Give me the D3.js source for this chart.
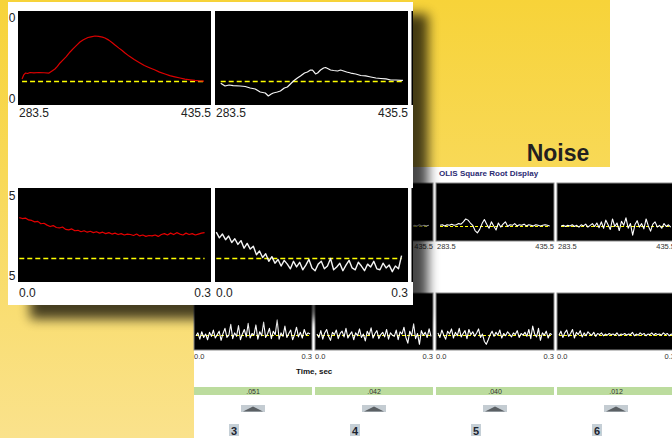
<!DOCTYPE html>
<html>
<head>
<meta charset="utf-8">
<script src="https://cdn.jsdelivr.net/npm/d3@7"></script>
<style>
  html, body { margin: 0; padding: 0; background: #fff; overflow: hidden; }
  svg { display: block; }
</style>
</head>
<body>
<script>
/* ---------- data ------------------------------------------------- */
const wlRange   = [283.5, 435.5];
const timeRange = [0.0, 0.3];

// front window, upper pair: [wavelength, signal]
const spectrumRed = [
  [286.7,27.7],[288,32],[289.5,34],[291,33.5],[293,34.6],[296,34.2],[300,34.6],[304,34.3],
  [307.9,34.0],[310,36],[312.6,38.3],[314.5,41],[316.6,44.7],[319,48],[321.5,51.5],[324.5,56.4],
  [327,60],[330,64],[332.3,67],[335,69.5],[338.6,71.8],[341,72.5],[344.1,73.4],[347,73],
  [350,72.2],[352,71.3],[355,69],[357.5,66.5],[359.9,63.8],[363,60.5],[365.5,58],[367.8,55.3],
  [371,52],[375,48.5],[379.6,44.7],[383,42],[387.5,39.4],[391,37.5],[395,35],[399.3,33.0],
  [403,31.3],[407,30],[411.1,28.7],[415,27.5],[419,26.8],[422.9,26.1],[426,25.7],[430,25.5]
];
const spectrumWhite = [
  [288.0,23.1],[291.4,20.2],[294.6,21.3],[297.8,20.7],[303.3,20.2],[307.3,19.7],[311.2,18.1],
  [315.2,17.0],[319.1,13.8],[323.1,12.8],[325.5,9.6],[327.8,11.7],[329.4,12.8],[332.6,13.8],
  [335.0,14.9],[338.1,18.1],[340.5,19.1],[342.9,22.3],[345.3,25.5],[348.4,28.7],[350.8,30.9],
  [354.0,34.0],[356.3,35.1],[358.7,37.2],[360.3,37.2],[362.7,33.0],[364.3,34.0],[366.6,37.2],
  [369.0,39.4],[370.6,39.9],[373.0,38.3],[374.5,37.2],[376.9,36.7],[380.1,36.2],[382.4,37.2],
  [384.8,36.2],[387.2,35.1],[390.4,34.0],[394.3,33.0],[398.3,31.4],[402.2,30.9],[406.2,29.8],
  [410.2,28.7],[414.1,28.2],[418.1,27.7],[422.0,26.6],[426.0,26.6],[430.0,26.1],[431.5,26.1]
];
const spectrumBase = 25;

// front window, lower pair: equally spaced time samples
const kineticSpan = [0.002, 0.29];
const kineticRed = [
  68.5,67.5,68,66,65.5,64,64.5,62,62.5,60.5,
  59,60,58,57.5,58.5,56,55.5,56.5,54.5,55,
  53.5,54.5,53,54,52.5,53.5,52,53,51.5,52.5,
  51,52,50.5,51.5,50,51,50.5,49.5,51,49,
  50,48.5,49.5,49,50,48.5,50.5,51.5,50,52,
  50.5,52.5,51,50,52,50.5,51.5,50,51,52,52.5
];
const kineticWhite = [
  53,47,51,45,49,42,46,40,44,36,
  41,35,38,29,33,26,30,22,27,20,
  24,17,23,19,14,22,16,21,13,18,
  24,15,12,19,22,14,17,25,13,16,
  20,12,18,23,15,13,21,17,12,19,
  16,22,14,13,20,15,18,11,17,14,28
];
const kineticBase = 24.5;

// square-root display, one column per channel
const channelIds   = ["3", "4", "5", "6"];
const noiseLabels  = [".051", ".042", ".040", ".012"];
const rowSpanTop    = [288.7, 430.0];
const rowSpanBottom = [0.005, 0.295];
const topNoise = [
  null,
  [26,27,25,27,26,27,26,28,26,27,25,27,26,28,26,27,25,27,26,27,26,25,27,26,
   28,26,27,25,27,26,27,26,28,26,27,25,27,26,27,26,25,27,26,28,26,27,26,27],
  [27,28,26,28,27,29,27,28,30,29,33,38,36,31,27,18,14,20,30,37,29,22,33,26,
   19,31,24,29,33,25,28,27,30,26,28,27,29,26,28,27,26,28,27,26,27,28,27,26],
  [26,27,25,27,26,28,25,27,24,28,26,29,24,27,30,25,31,23,33,22,36,28,20,38,25,
   31,18,34,27,40,22,30,10,28,35,24,30,21,38,26,17,29,33,24,27,22,30,25,28,24]
];
const bottomNoise = [
  [25,30,19,32,22,28,18,31,24,35,21,27,33,17,29,38,22,26,45,20,
   30,24,43,18,28,36,23,47,21,29,26,44,19,32,25,49,22,28,38,20,
   33,27,53,19,30,24,42,22,29,35,18,27,40,23,31,21,36,26,30,28],
  [28,22,34,19,30,36,24,17,31,27,35,20,29,33,23,38,21,27,32,18,
   30,25,37,22,28,16,33,26,39,21,29,34,20,27,31,23,36,19,30,26,
   24,35,18,32,28,40,22,12,33,25,46,20,29,10,34,26,31,22,37,24],
  [30,22,35,26,19,33,28,37,21,31,25,38,23,29,34,20,36,27,32,24,
   30,37,22,28,15,10,18,27,33,24,31,26,35,21,29,25,32,28,23,30,
   27,34,22,29,26,31,24,36,20,42,28,23,38,17,30,26,33,21,29,27],
  [26,33,22,30,35,24,29,36,21,31,27,34,23,30,25,32,28,26,31,24,
   29,27,30,25,28,26,29,27,28,26,30,25,28,27,29,26,28,27,31,25,
   28,26,30,27,29,25,28,27,30,26,29,27,28,26,30,27,29,25,28,27]
];
const noiseBase = 25;

/* ---------- helpers ---------------------------------------------- */
const sampled = (vals, [a, b]) => vals.map((v, i) => [a + i * (b - a) / (vals.length - 1), v]);
let clipUid = 0;

function panel(g, {x, y, w, h, xDomain, series, base, dash = "5,3", border = null, lw = 1.2, dashW = 1.5}) {
  const xs = d3.scaleLinear().domain(xDomain).range([x, x + w]);
  const ys = d3.scaleLinear().domain([0, 100]).range([y + h, y]);
  const id = `clip-${++clipUid}`;
  g.append("clipPath").attr("id", id)
    .append("rect").attr("x", x).attr("y", y).attr("width", w).attr("height", h);
  g.append("rect").attr("x", x).attr("y", y).attr("width", w).attr("height", h)
    .attr("fill", "#000")
    .attr("stroke", border || "none");
  const inner = g.append("g").attr("clip-path", `url(#${id})`);
  const line = d3.line().x(d => xs(d[0])).y(d => ys(d[1]));
  series.forEach(s => {
    if (!s.data) return;
    const ext = d3.extent(s.data, d => d[0]);
    const by = Math.floor(ys(base)) + 0.5;
    inner.append("line")
      .attr("x1", xs(ext[0])).attr("x2", xs(ext[1]))
      .attr("y1", by).attr("y2", by)
      .attr("stroke", "#ffff00").attr("stroke-width", dashW)
      .attr("stroke-dasharray", dash);
    inner.append("path").datum(s.data)
      .attr("d", line)
      .attr("fill", "none")
      .attr("stroke", s.color)
      .attr("stroke-width", lw)
      .attr("stroke-linejoin", "round");
  });
}

function text(g, x, y, str, {size = 12, anchor = "start", weight = "normal", fill = "#222"} = {}) {
  return g.append("text").attr("x", x).attr("y", y).text(str)
    .attr("font-family", "'Liberation Sans', Arial, sans-serif")
    .attr("font-size", size).attr("font-weight", weight)
    .attr("text-anchor", anchor).attr("fill", fill);
}

/* ---------- canvas ----------------------------------------------- */
const svg = d3.select("body").append("svg").attr("width", 672).attr("height", 438);
const defs = svg.append("defs");

const grad = defs.append("linearGradient").attr("id", "yellow")
  .attr("x1", 0).attr("y1", 0).attr("x2", 0).attr("y2", 1);
grad.append("stop").attr("offset", 0).attr("stop-color", "#f7d339");
grad.append("stop").attr("offset", 0.4).attr("stop-color", "#f8d958");
grad.append("stop").attr("offset", 1).attr("stop-color", "#fae28c");

const blur = defs.append("filter").attr("id", "shadow")
  .attr("x", "-10%").attr("y", "-10%").attr("width", "120%").attr("height", "120%");
blur.append("feGaussianBlur").attr("stdDeviation", 6);

svg.append("rect").attr("width", 672).attr("height", 438).attr("fill", "#fff");
svg.append("rect").attr("width", 610).attr("height", 438).attr("fill", "url(#yellow)");

/* ---------- back window: OLIS square root display --------------- */
const shot = svg.append("g");
shot.append("rect").attr("x", 194).attr("y", 167).attr("width", 478).attr("height", 271).attr("fill", "#fff");
text(shot, 439, 176, "OLIS Square Root Display", {size: 8, weight: "bold", fill: "#2b2b73"});

const colX = i => 194 + i * 121, colW = 118;

channelIds.forEach((id, i) => {
  const x0 = colX(i);
  panel(shot, {x: x0, y: 183, w: colW, h: 58, xDomain: wlRange,
    series: [{data: topNoise[i] && sampled(topNoise[i], rowSpanTop), color: "#fff"}],
    base: noiseBase, dash: "3,2", border: "#8a8a8a", lw: 1.1, dashW: 1});
  text(shot, x0 + 1, 249, d3.format(".1f")(wlRange[0]), {size: 7.5, fill: "#333"});
  text(shot, x0 + colW, 249, d3.format(".1f")(wlRange[1]), {size: 7.5, anchor: "end", fill: "#333"});

  panel(shot, {x: x0, y: 293, w: colW, h: 57, xDomain: timeRange,
    series: [{data: sampled(bottomNoise[i], rowSpanBottom), color: "#fff"}],
    base: noiseBase, dash: "3,2", border: "#8a8a8a", lw: 1.1, dashW: 1});
  text(shot, x0, 359, d3.format(".1f")(timeRange[0]), {size: 7.5, fill: "#333"});
  text(shot, x0 + colW, 359, d3.format(".1f")(timeRange[1]), {size: 7.5, anchor: "end", fill: "#333"});

  shot.append("rect").attr("x", x0).attr("y", 387).attr("width", colW).attr("height", 8).attr("fill", "#bcdc9e");
  text(shot, x0 + colW / 2, 394, noiseLabels[i], {size: 7, anchor: "middle", fill: "#333"});

  shot.append("rect").attr("x", x0 + 47).attr("y", 405).attr("width", 24).attr("height", 7).attr("fill", "#c4ccd2");
  shot.append("path")
    .attr("d", `M${x0 + 49},${411.5}L${x0 + 59},${406.5}L${x0 + 69},${411.5}Z`)
    .attr("fill", "#5b6064");

  shot.append("rect").attr("x", x0 + 35).attr("y", 424).attr("width", 10).attr("height", 12).attr("fill", "#c5cfd6");
  text(shot, x0 + 40, 434.5, id, {size: 11, weight: "bold", anchor: "middle", fill: "#1c2430"});
});
text(shot, 296, 374, "Time, sec", {size: 8, weight: "bold", fill: "#111"});

text(svg, 558, 161, "Noise", {size: 23, weight: "bold", anchor: "middle", fill: "#231f20"});

/* ---------- front window ---------------------------------------- */
svg.append("rect").attr("x", 30).attr("y", 14).attr("width", 398).attr("height", 305)
  .attr("fill", "#000").attr("opacity", 0.72).attr("filter", "url(#shadow)");

const front = svg.append("g");
const frontClip = defs.append("clipPath").attr("id", "front-clip");
frontClip.append("rect").attr("x", 8).attr("y", 2).attr("width", 405).attr("height", 303);
front.attr("clip-path", "url(#front-clip)");
front.append("rect").attr("x", 8).attr("y", 2).attr("width", 405).attr("height", 303).attr("fill", "#fff");

panel(front, {x: 18, y: 11, w: 193, h: 94, xDomain: wlRange,
  series: [{data: spectrumRed, color: "#dc0000"}], base: spectrumBase});
panel(front, {x: 215, y: 11, w: 193, h: 94, xDomain: wlRange,
  series: [{data: spectrumWhite, color: "#f4f4f4"}], base: spectrumBase});
panel(front, {x: 18, y: 188, w: 193, h: 94, xDomain: timeRange,
  series: [{data: sampled(kineticRed, kineticSpan), color: "#e40000"}], base: kineticBase});
panel(front, {x: 215, y: 188, w: 193, h: 94, xDomain: timeRange,
  series: [{data: sampled(kineticWhite, kineticSpan), color: "#f4f4f4"}], base: kineticBase, lw: 1.4});
front.append("rect").attr("x", 411.5).attr("y", 11).attr("width", 2).attr("height", 94).attr("fill", "#000");
front.append("rect").attr("x", 411.5).attr("y", 188).attr("width", 2).attr("height", 94).attr("fill", "#000");

// axis end labels (y labels are cut by the window edge)
text(front, 15.5, 22, "1.0", {anchor: "end"});
text(front, 15.5, 103, "0.0", {anchor: "end"});
text(front, 15.5, 200, "1.5", {anchor: "end"});
text(front, 15.5, 280, "0.5", {anchor: "end"});
[18, 215].forEach(x0 => {
  text(front, x0 + 1, 117, d3.format(".1f")(wlRange[0]));
  text(front, x0 + 193, 117, d3.format(".1f")(wlRange[1]), {anchor: "end"});
  text(front, x0 + 1, 297, d3.format(".1f")(timeRange[0]));
  text(front, x0 + 193, 297, d3.format(".1f")(timeRange[1]), {anchor: "end"});
});
</script>
</body>
</html>
